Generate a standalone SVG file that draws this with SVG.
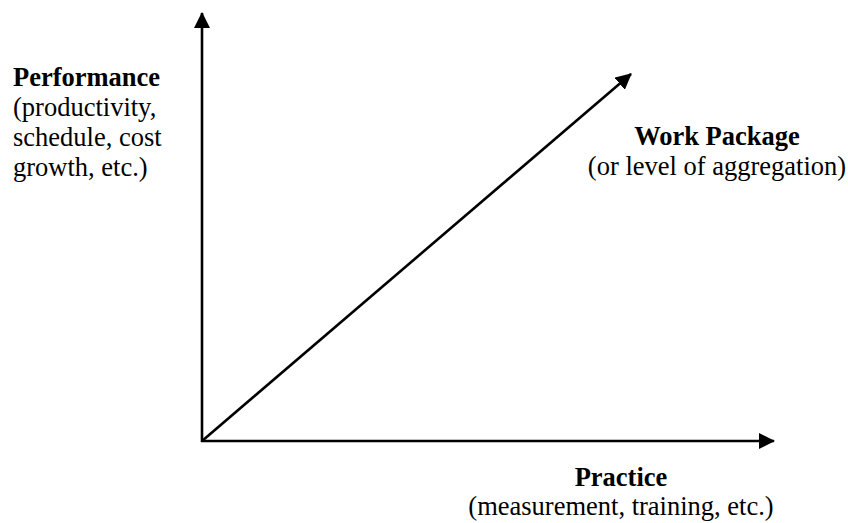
<svg xmlns="http://www.w3.org/2000/svg" width="848" height="523" viewBox="0 0 848 523">
<style>
.t{font-family:"Liberation Serif","Times New Roman",serif;font-size:26.5px;fill:#000}
.b{font-weight:bold}
.ax{stroke:#000;stroke-width:2.6;fill:none}
</style>
<defs>
<marker id="ah" viewBox="0 0 16 16" refX="15" refY="8" markerWidth="16" markerHeight="16" markerUnits="userSpaceOnUse" orient="auto">
<path d="M0,0 L16,8 L0,16 Z" fill="#000"/>
</marker>
</defs>
<rect width="848" height="523" fill="#fff"/>
<g id="connectors">
<line class="ax" x1="202" y1="442" x2="202" y2="13" marker-end="url(#ah)"/>
<line class="ax" x1="201" y1="441" x2="774" y2="441" marker-end="url(#ah)"/>
<line class="ax" x1="202" y1="441" x2="631" y2="74" marker-end="url(#ah)"/>
</g>
<g id="performance">
<text class="t b" x="13" y="86">Performance</text>
<text class="t" x="13" y="116">(productivity,</text>
<text class="t" x="13" y="146">schedule, cost</text>
<text class="t" x="13" y="176">growth, etc.)</text>
</g>
<g id="workpackage">
<text class="t b" x="717" y="145" text-anchor="middle">Work Package</text>
<text class="t" x="717" y="175" text-anchor="middle">(or level of aggregation)</text>
</g>
<g id="practice">
<text class="t b" x="621" y="486" text-anchor="middle">Practice</text>
<text class="t" x="621" y="515" text-anchor="middle">(measurement, training, etc.)</text>
</g>
</svg>
